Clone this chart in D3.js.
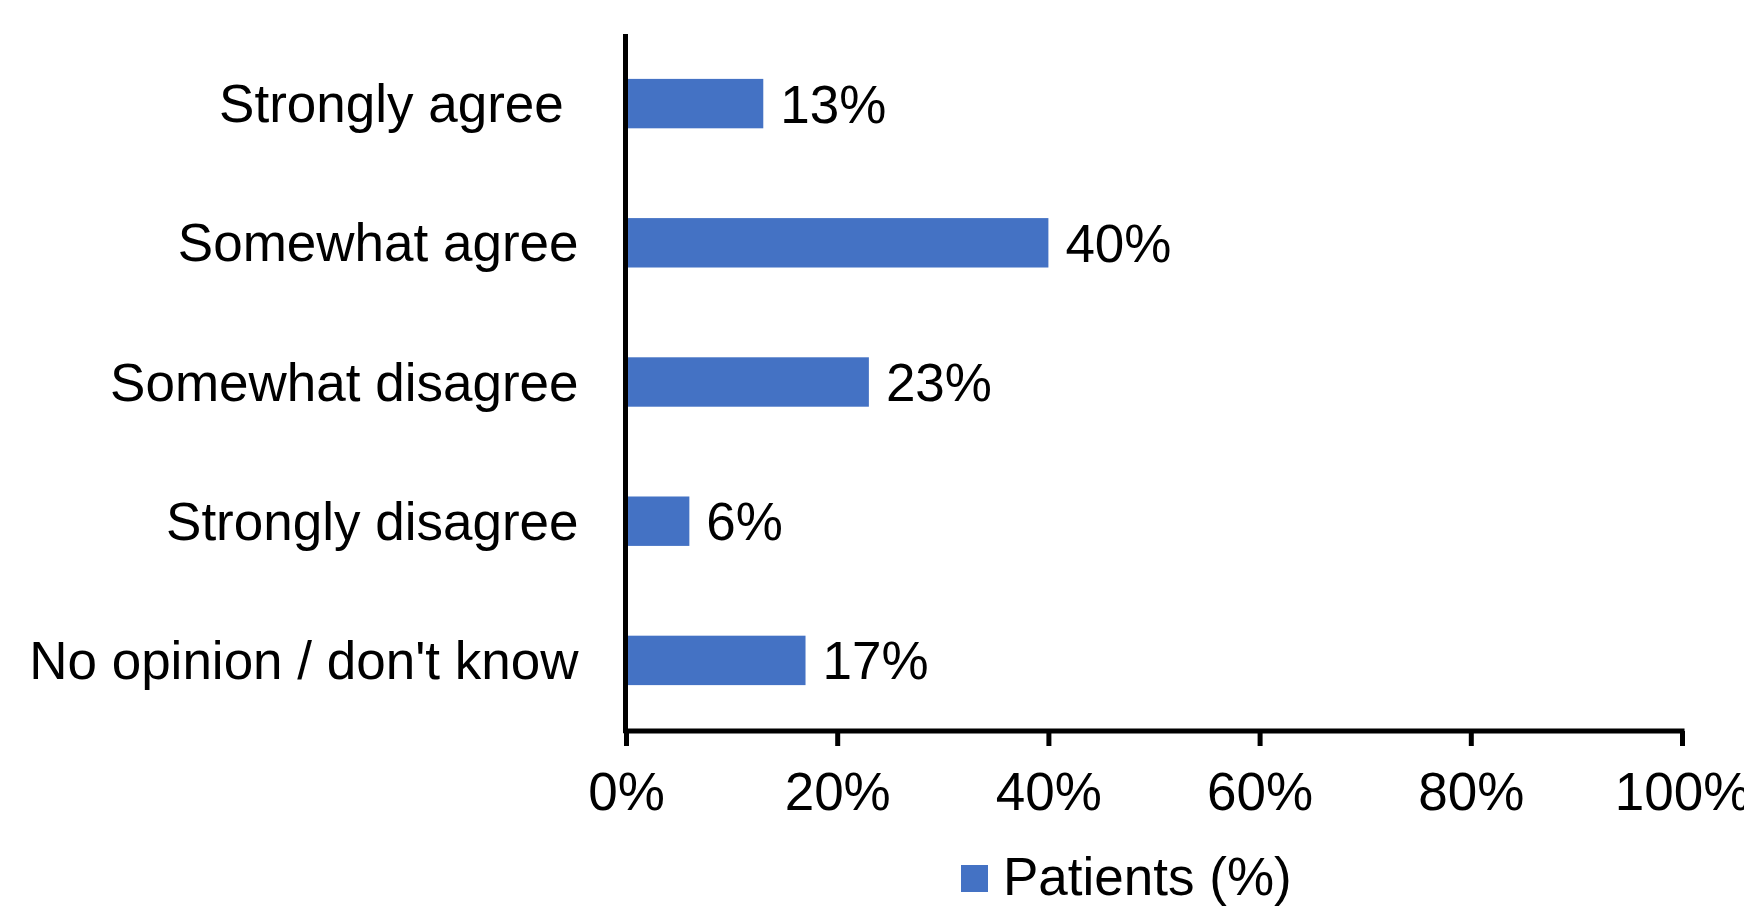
<!DOCTYPE html>
<html>
<head>
<meta charset="utf-8">
<script src="https://cdn.jsdelivr.net/npm/d3@7"></script>
<style>
  html, body { margin: 0; padding: 0; background: #fff; }
  svg { display: block; font-family: "Liberation Sans", Arial, sans-serif; }
</style>
</head>
<body>
<svg id="chart" width="1744" height="907"></svg>
<script>
const categories = ["Strongly agree ", "Somewhat agree", "Somewhat disagree", "Strongly disagree", "No opinion / don't know"];
const values = [13, 40, 23, 6, 17];
const xTicks = [0, 20, 40, 60, 80, 100];
const seriesName = "Patients (%)";

const svg = d3.select("#chart");
const color = "#4472C4";
const fontSize = 53;

const x = d3.scaleLinear().domain([0, 100]).range([626, 1682]);
const y = d3.scaleBand().domain(categories).range([34, 730]).paddingInner(0.645).paddingOuter(0.3225);

// bars
svg.append("g").selectAll("rect").data(categories).join("rect")
  .attr("x", x(0))
  .attr("y", d => y(d))
  .attr("width", (d, i) => x(values[i]) - x(0))
  .attr("height", y.bandwidth())
  .attr("fill", color);

// value labels
svg.append("g").selectAll("text").data(categories).join("text")
  .attr("x", (d, i) => x(values[i]) + 17)
  .attr("y", d => y(d) + y.bandwidth() / 2 + 19)
  .attr("font-size", fontSize)
  .attr("fill", "#000")
  .text((d, i) => values[i] + "%");

// x axis
const xAxis = svg.append("g")
  .attr("transform", "translate(0,731)")
  .call(d3.axisBottom(x).tickValues(xTicks).tickFormat(d => d + "%").tickSize(15).tickPadding(26).tickSizeOuter(0));
xAxis.select(".domain").attr("stroke", "#000").attr("stroke-width", 5).attr("d", `M${x(0) - 2.5},0H${x(100) + 2.5}`);
xAxis.selectAll(".tick line").attr("stroke", "#000").attr("stroke-width", 5);
xAxis.selectAll(".tick text").attr("font-size", fontSize).attr("fill", "#000")
  .attr("font-family", '"Liberation Sans", Arial, sans-serif');

// y axis
const yAxis = svg.append("g")
  .attr("transform", `translate(${x(0) - 0.5},0)`)
  .call(d3.axisLeft(y).tickSize(0).tickPadding(47));
yAxis.select(".domain").attr("stroke", "#000").attr("stroke-width", 5).attr("d", "M0,34V733");
yAxis.selectAll(".tick text").attr("font-size", fontSize).attr("fill", "#000")
  .attr("font-family", '"Liberation Sans", Arial, sans-serif')
  .style("white-space", "pre")
  .attr("dy", "0.35em");

// legend
const legend = svg.append("g");
legend.append("rect").attr("x", 961).attr("y", 865).attr("width", 27).attr("height", 27).attr("fill", color);
legend.append("text").attr("x", 1003).attr("y", 895).attr("font-size", fontSize).attr("fill", "#000").text(seriesName);
</script>
</body>
</html>
